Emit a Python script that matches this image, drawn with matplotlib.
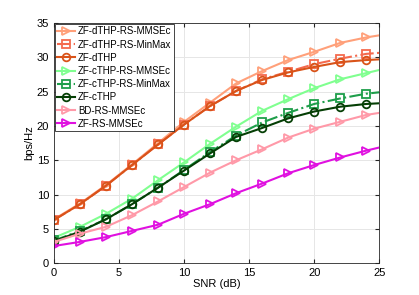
import numpy as np
import matplotlib
matplotlib.use('Agg')
import matplotlib.pyplot as plt

plt.rcParams['font.family'] = ['Liberation Sans', 'DejaVu Sans']

# SNR points (last one lies beyond the x-limit, only the line segment shows)
snr = [0, 2, 4, 6, 8, 10, 12, 14, 16, 18, 20, 22, 24, 26]

dthp_mmse = [6.4, 8.7, 11.4, 14.4, 17.5, 20.6, 23.4, 26.2, 28.0, 29.6, 30.8, 32.1, 32.9, 33.5]
dthp_minmax = [6.3, 8.6, 11.3, 14.3, 17.3, 20.2, 22.9, 25.1, 26.8, 27.9, 29.0, 29.8, 30.5, 30.8]
dthp = [6.3, 8.6, 11.3, 14.3, 17.3, 20.2, 22.9, 25.1, 26.7, 27.8, 28.6, 29.3, 29.6, 29.8]
cthp_mmse = [3.7, 5.3, 7.2, 9.4, 12.1, 14.7, 17.4, 19.9, 22.2, 23.9, 25.5, 26.8, 27.7, 28.6]
cthp_minmax = [3.3, 4.7, 6.4, 8.6, 11.0, 13.6, 16.2, 18.6, 20.5, 21.9, 23.2, 24.0, 24.7, 25.1]
cthp = [3.2, 4.6, 6.4, 8.6, 11.0, 13.5, 16.0, 18.4, 19.7, 21.1, 22.1, 22.8, 23.2, 23.4]
bd_mmse = [3.1, 4.3, 5.3, 7.0, 9.0, 11.1, 13.2, 15.0, 16.6, 18.3, 19.6, 20.6, 21.6, 22.2]
zf_mmse = [2.5, 3.1, 3.8, 4.7, 5.6, 7.2, 8.6, 10.2, 11.6, 13.1, 14.3, 15.4, 16.4, 17.3]

fig = plt.figure(figsize=(4.19, 2.95), dpi=100)
ax = fig.add_axes([0.129, 0.108, 0.776, 0.814])

mk = dict(markersize=5.5, markerfacecolor='none', markeredgewidth=1.3, linewidth=1.5)
ax.plot(snr, dthp_mmse, '->', color='#FFA07A', label='ZF-dTHP-RS-MMSEc', **mk)
ax.plot(snr, dthp_minmax, '-.s', color='#F46A4E', label='ZF-dTHP-RS-MinMax', **mk)
ax.plot(snr, dthp, '-o', color='#D95319', label='ZF-dTHP', **mk)
ax.plot(snr, cthp_mmse, '->', color='#80FF90', label='ZF-cTHP-RS-MMSEc', **mk)
ax.plot(snr, cthp_minmax, '-.s', color='#1E9E4A', label='ZF-cTHP-RS-MinMax', **mk)
ax.plot(snr, cthp, '-o', color='#053F05', label='ZF-cTHP', **mk)
ax.plot(snr, bd_mmse, '->', color='#FF99A8', label='BD-RS-MMSEc', **mk)
ax.plot(snr, zf_mmse, '->', color='#E010E0', label='ZF-RS-MMSEc', **mk)

ax.set_xlim(0, 25)
ax.set_ylim(0, 35)
ax.set_xticks([0, 5, 10, 15, 20, 25])
ax.set_yticks([0, 5, 10, 15, 20, 25, 30, 35])
ax.tick_params(direction='in', top=True, right=True, labelsize=8, length=3, color='#262626')
ax.grid(color='#E6E6E6', linewidth=0.7)
for s in ax.spines.values():
    s.set_color('#262626')
    s.set_linewidth(0.6)
ax.set_xlabel('SNR (dB)', fontsize=8, labelpad=1)
ax.set_ylabel('bps/Hz', fontsize=8, labelpad=2)

leg = ax.legend(loc='upper left', fontsize=7, frameon=True, fancybox=False,
                borderaxespad=0.1, handlelength=1.8, handletextpad=0.3,
                labelspacing=0.33, borderpad=0.25)
leg.get_frame().set_edgecolor('#262626')
leg.get_frame().set_linewidth(0.6)
leg.get_frame().set_alpha(1)

plt.savefig('out.png', dpi=100)
